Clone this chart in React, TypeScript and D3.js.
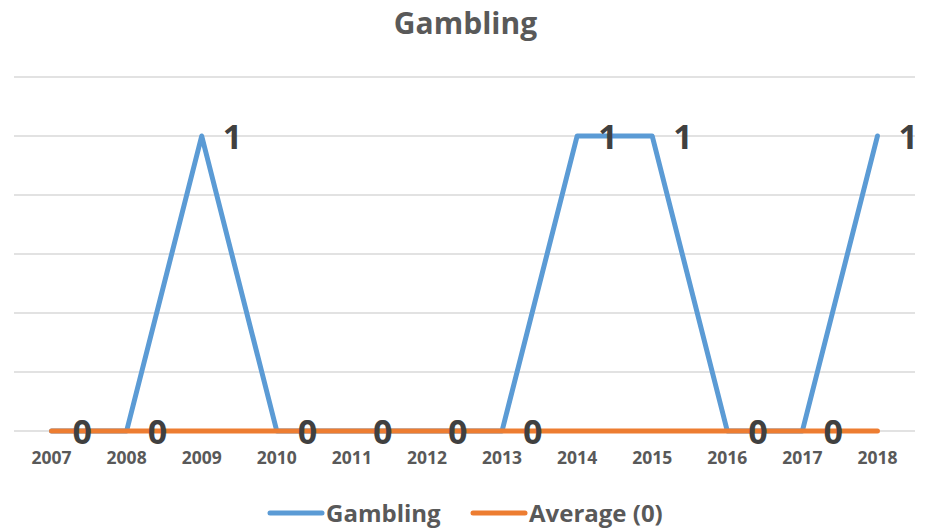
import React, { useEffect, useRef } from 'react';
import * as d3 from 'd3';

const years = ['2007', '2008', '2009', '2010', '2011', '2012', '2013', '2014', '2015', '2016', '2017', '2018'];
const gambling = [0, 0, 1, 0, 0, 0, 0, 1, 1, 0, 0, 1];
const average = [0, 0, 0, 0, 0, 0, 0, 0, 0, 0, 0, 0];
const yTicks = [0, 0.2, 0.4, 0.6, 0.8, 1, 1.2];

const W = 927;
const H = 530;
const FONT = "'Open Sans', 'DejaVu Sans', sans-serif";

export default function App() {
  const ref = useRef<SVGSVGElement>(null);

  useEffect(() => {
    if (!ref.current) return;
    const svg = d3.select(ref.current);
    svg.selectAll('*').remove();

    const x = d3.scaleBand().domain(years).range([14, 915]);
    const cx = (d: string) => (x(d) ?? 0) + x.bandwidth() / 2;
    const y = d3.scaleLinear().domain([0, 1.2]).range([431, 77]);

    // Title
    svg.append('text')
      .attr('x', W / 2 + 2)
      .attr('y', 34)
      .attr('text-anchor', 'middle')
      .style('font-family', FONT)
      .style('font-weight', 700)
      .style('font-size', '30px')
      .style('fill', '#595959')
      .text('Gambling');

    // Gridlines
    svg.append('g')
      .selectAll('line')
      .data(yTicks)
      .enter()
      .append('line')
      .attr('x1', 14)
      .attr('x2', 915)
      .attr('y1', d => y(d))
      .attr('y2', d => y(d))
      .attr('stroke', '#d9d9d9')
      .attr('stroke-width', 1.5);

    // X labels
    svg.append('g')
      .selectAll('text')
      .data(years)
      .enter()
      .append('text')
      .attr('x', d => cx(d))
      .attr('y', 464)
      .attr('text-anchor', 'middle')
      .style('font-family', FONT)
      .style('font-weight', 700)
      .style('font-size', '17.5px')
      .style('fill', '#595959')
      .text(d => d);

    const line = d3.line<number>()
      .x((d, i) => cx(years[i]))
      .y(d => y(d));

    svg.append('path')
      .datum(gambling)
      .attr('d', line)
      .attr('fill', 'none')
      .attr('stroke', '#5b9bd5')
      .attr('stroke-width', 5)
      .attr('stroke-linejoin', 'round')
      .attr('stroke-linecap', 'round');

    svg.append('path')
      .datum(average)
      .attr('d', line)
      .attr('fill', 'none')
      .attr('stroke', '#ed7d31')
      .attr('stroke-width', 5)
      .attr('stroke-linejoin', 'round')
      .attr('stroke-linecap', 'round');

    // Data labels
    svg.append('g')
      .selectAll('text')
      .data(gambling)
      .enter()
      .append('text')
      .attr('x', (d, i) => cx(years[i]) + 21)
      .attr('y', d => y(d) + 13)
      .style('font-family', FONT)
      .style('font-weight', 700)
      .style('font-size', '34px')
      .style('fill', '#404040')
      .text(d => d);

    // Legend
    const legendItems = [
      { label: 'Gambling', color: '#5b9bd5', x: 270 },
      { label: 'Average (0)', color: '#ed7d31', x: 473 },
    ];
    const lg = svg.append('g')
      .selectAll('g')
      .data(legendItems)
      .enter()
      .append('g')
      .attr('transform', d => `translate(${d.x},513)`);
    lg.append('line')
      .attr('x1', 0)
      .attr('x2', 52)
      .attr('stroke', d => d.color)
      .attr('stroke-width', 5)
      .attr('stroke-linecap', 'round');
    lg.append('text')
      .attr('x', 56)
      .attr('y', 9)
      .style('font-family', FONT)
      .style('font-weight', 700)
      .style('font-size', '24px')
      .style('fill', '#595959')
      .text(d => d.label);
  }, []);

  return (
    <svg ref={ref} width={W} height={H} style={{ position: 'absolute', left: 0, top: 0, background: '#fff' }} />
  );
}
